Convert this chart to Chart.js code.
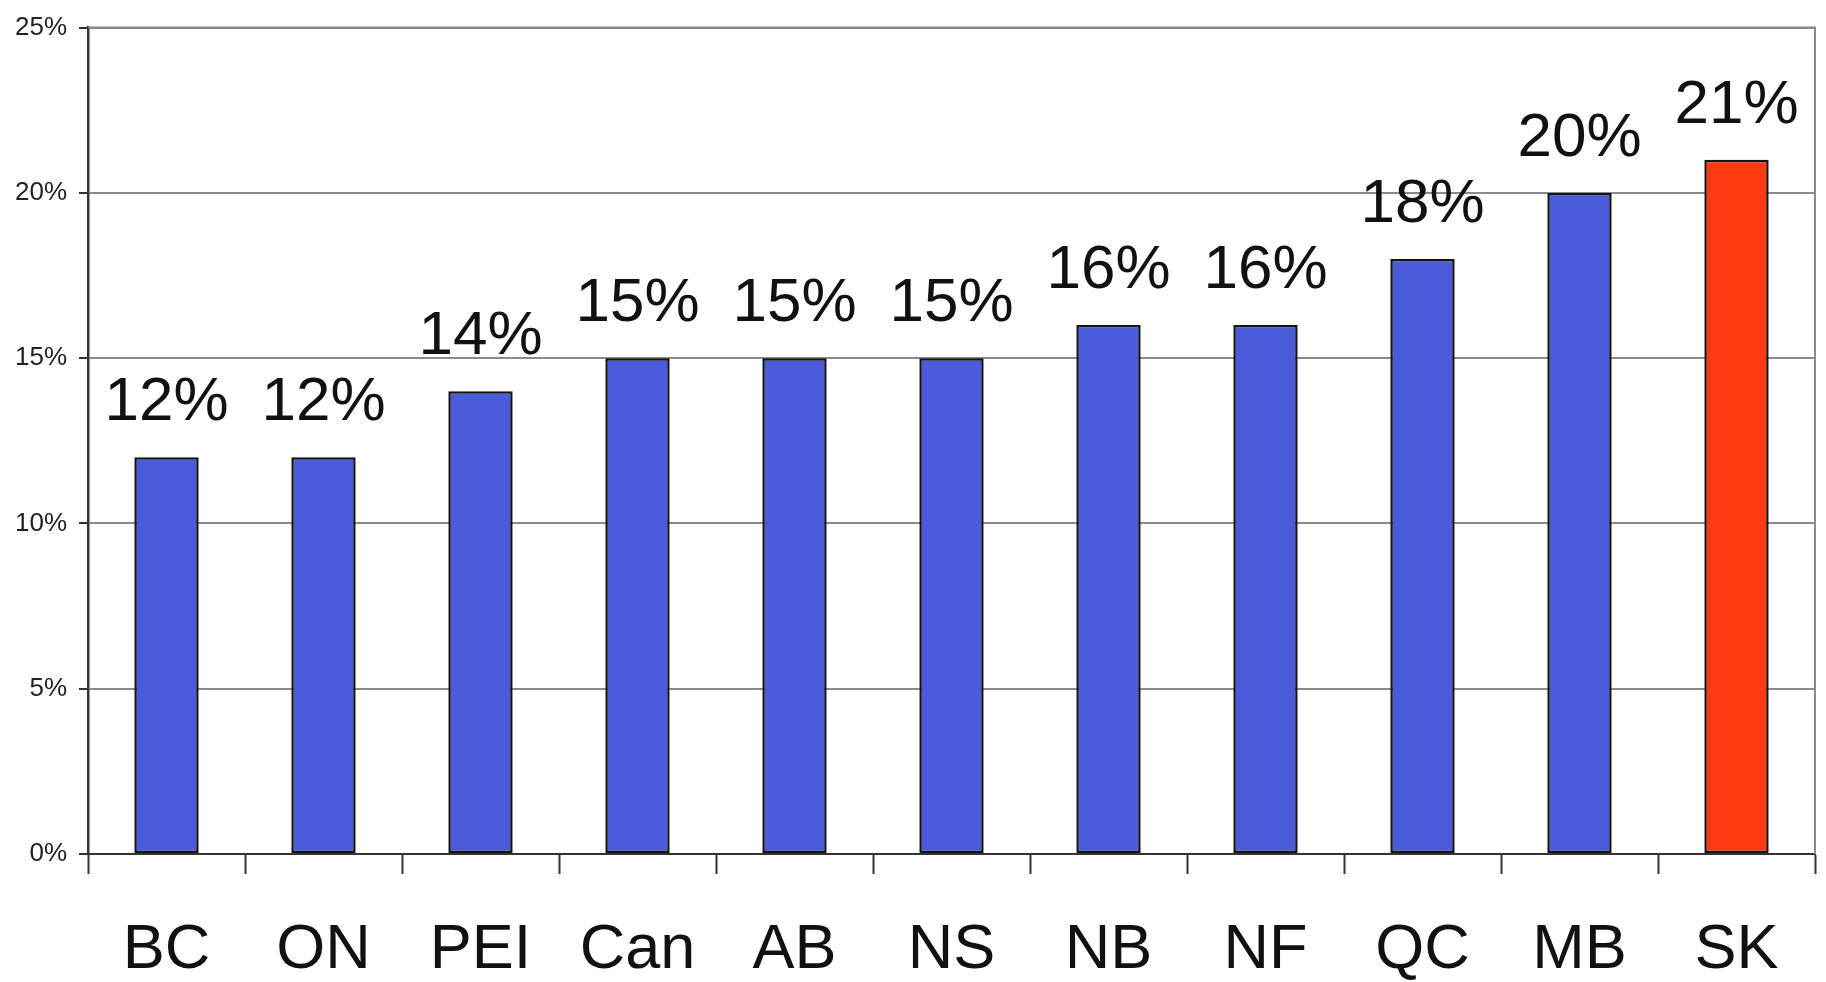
<!DOCTYPE html>
<html>
<head>
<meta charset="utf-8">
<script src="https://cdn.jsdelivr.net/npm/chart.js@4"></script>
<style>
  html, body { margin: 0; padding: 0; background: #ffffff; }
  #wrap { width: 1826px; height: 982px; position: relative; }
</style>
</head>
<body>
<div id="wrap"><canvas id="c"></canvas></div>
<script>
const categories = ['BC', 'ON', 'PEI', 'Can', 'AB', 'NS', 'NB', 'NF', 'QC', 'MB', 'SK'];
const values = [12, 12, 14, 15, 15, 15, 16, 16, 18, 20, 21];
const yTicks = [0, 5, 10, 15, 20, 25];
const highlight = 'SK';

const BLUE = '#4a5bdc';
const RED = '#ff3a12';
const FONT = '"Liberation Sans", Arial, Helvetica, sans-serif';

const barColors = categories.map(c => c === highlight ? RED : BLUE);

const valueLabels = {
  id: 'valueLabels',
  afterDatasetsDraw(chart) {
    const ctx = chart.ctx;
    const meta = chart.getDatasetMeta(0);
    ctx.save();
    ctx.font = '62px ' + FONT;
    ctx.fillStyle = '#111111';
    ctx.textAlign = 'center';
    ctx.textBaseline = 'alphabetic';
    meta.data.forEach((bar, i) => {
      ctx.fillText(values[i] + '%', bar.x, bar.y - 37);
    });
    ctx.restore();
  }
};

const frame = {
  id: 'frame',
  beforeDatasetsDraw(chart) {
    const a = chart.chartArea;
    const ctx = chart.ctx;
    ctx.save();
    ctx.strokeStyle = '#8a8a8a';
    ctx.lineWidth = 2;
    ctx.beginPath();
    ctx.moveTo(a.left, a.top);
    ctx.lineTo(a.right, a.top);
    ctx.lineTo(a.right, a.bottom);
    ctx.stroke();
    ctx.restore();
  }
};

new Chart(document.getElementById('c'), {
  type: 'bar',
  data: {
    labels: categories,
    datasets: [{
      data: values,
      backgroundColor: barColors,
      borderColor: '#151515',
      borderWidth: 2.5,
      borderSkipped: false,
      barPercentage: 0.41,
      categoryPercentage: 1.0
    }]
  },
  options: {
    responsive: true,
    maintainAspectRatio: false,
    animation: false,
    devicePixelRatio: 1,
    layout: { padding: { top: 27, right: 11, left: 0, bottom: 0 } },
    plugins: {
      legend: { display: false },
      tooltip: { enabled: false }
    },
    scales: {
      x: {
        offset: true,
        grid: {
          offset: true,
          drawOnChartArea: false,
          drawTicks: true,
          tickLength: 20,
          tickColor: '#333333',
          tickWidth: 2
        },
        border: { color: '#333333', width: 2 },
        ticks: {
          color: '#111111',
          font: { family: FONT, size: 63 },
          padding: 39,
          maxRotation: 0,
          autoSkip: false
        },
        afterFit(scale) { scale.height = 128; }
      },
      y: {
        min: 0,
        max: 25,
        afterBuildTicks(scale) { scale.ticks = yTicks.map(v => ({ value: v })); },
        grid: {
          color: '#8a8a8a',
          lineWidth: 2,
          drawTicks: true,
          tickLength: 9,
          tickColor: '#333333'
        },
        border: { color: '#333333', width: 2.5 },
        ticks: {
          color: '#222222',
          font: { family: FONT, size: 26 },
          padding: 12,
          callback: v => v + '%'
        },
        afterFit(scale) { scale.width = 88; }
      }
    }
  },
  plugins: [frame, valueLabels]
});
</script>
</body>
</html>
